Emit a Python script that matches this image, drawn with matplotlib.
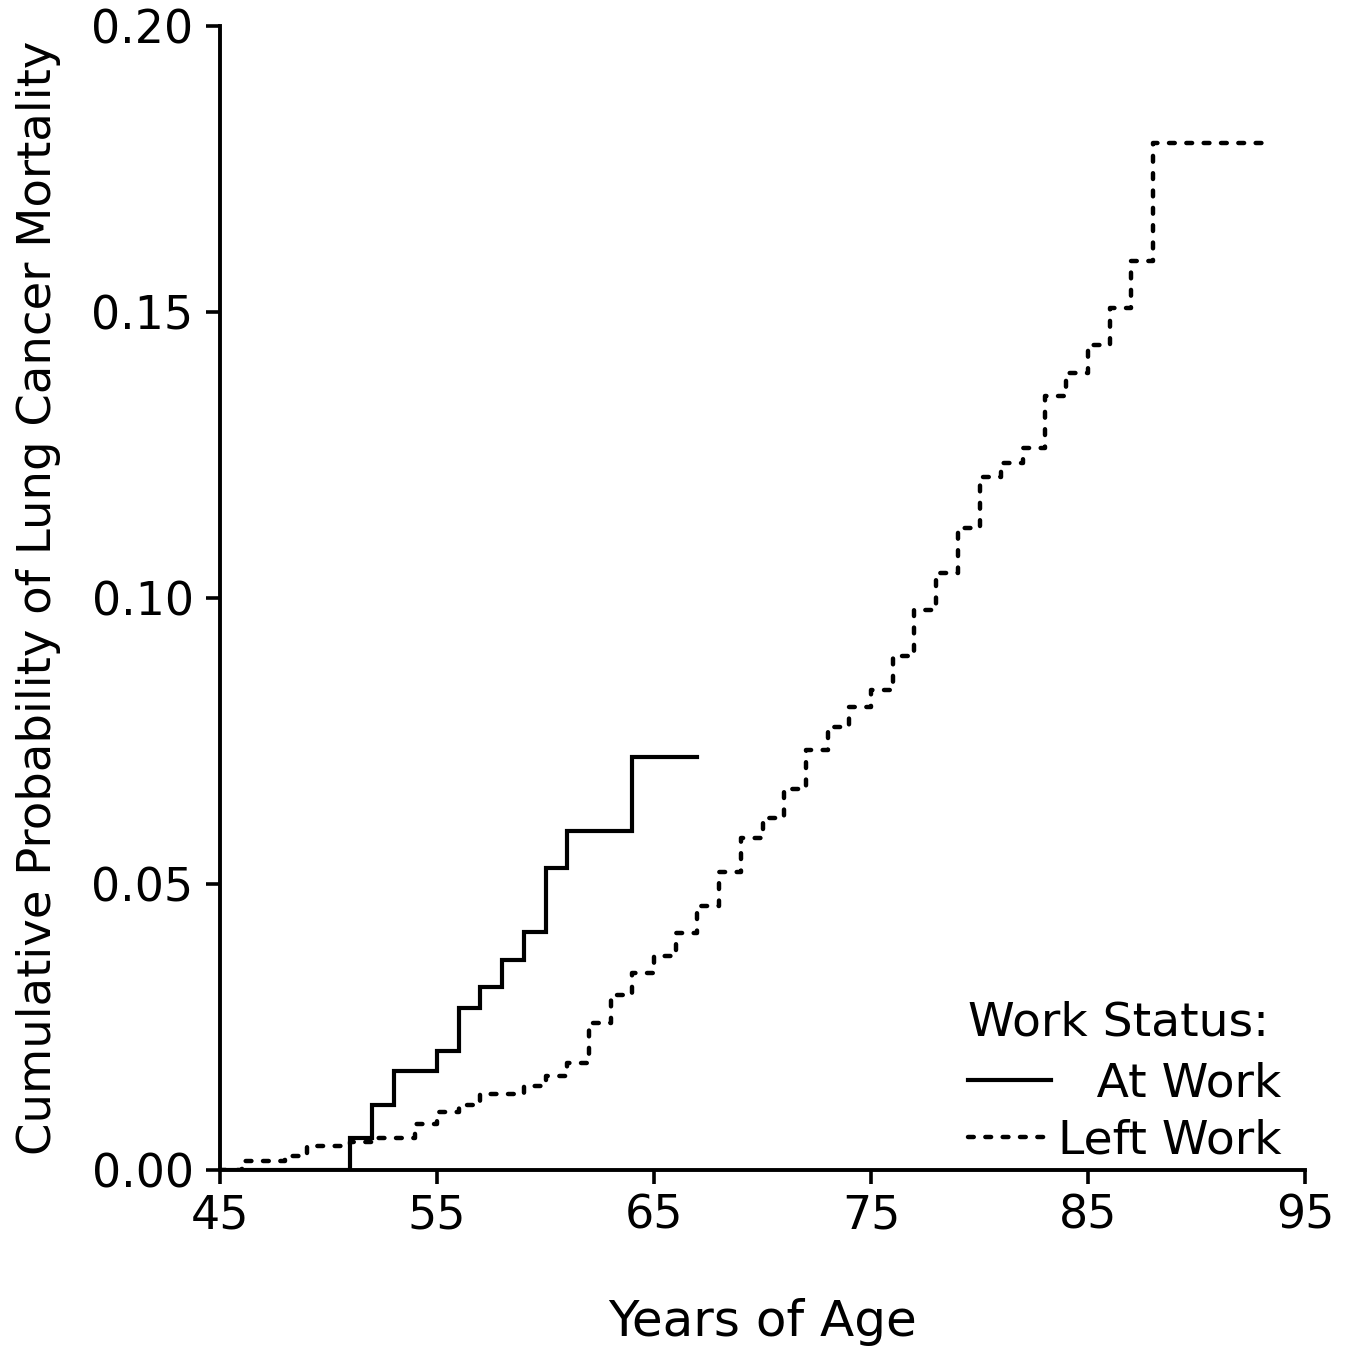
import matplotlib
matplotlib.use("Agg")
import matplotlib.pyplot as plt
from matplotlib.ticker import FormatStrFormatter

plt.rcParams['font.family'] = ['DejaVu Sans']

# Data
at_work_age = [45, 51, 52, 53, 55, 56, 57, 58, 59, 60, 61, 64, 67]
at_work_prob = [0.0, 0.0056, 0.0114, 0.0173, 0.0208, 0.0283, 0.0320, 0.0367,
                0.0416, 0.0528, 0.0593, 0.0722, 0.0722]

left_work_age = [45, 46, 48, 49, 51, 52, 54, 55, 56, 57, 59, 60, 61, 62, 63, 64,
                 65, 66, 67, 68, 69, 70, 71, 72, 73, 74, 75, 76, 77, 78, 79, 80,
                 81, 82, 83, 84, 85, 86, 87, 88, 93]
left_work_prob = [0.0, 0.0016, 0.0024, 0.0042, 0.0049, 0.0056, 0.0080, 0.0102,
                  0.0114, 0.0133, 0.0147, 0.0164, 0.0187, 0.0257, 0.0306, 0.0344,
                  0.0374, 0.0414, 0.0461, 0.0521, 0.0580, 0.0616, 0.0666, 0.0735,
                  0.0775, 0.0810, 0.0839, 0.0899, 0.0979, 0.1044, 0.1122, 0.1212,
                  0.1236, 0.1262, 0.1353, 0.1393, 0.1442, 0.1507, 0.1589, 0.1795,
                  0.1795]

x_ticks = [45, 55, 65, 75, 85, 95]
y_ticks = [0.00, 0.05, 0.10, 0.15, 0.20]

fig = plt.figure(figsize=(13.55, 13.51), dpi=100)
ax = fig.add_axes([220 / 1355, 1 - 1170 / 1351, 1085 / 1355, 1144 / 1351])

ax.step(at_work_age, at_work_prob, where='post', color='black', lw=3.0,
        label=' \u2002At Work', solid_joinstyle='miter')
ax.step(left_work_age, left_work_prob, where='post', color='black', lw=3.2,
        linestyle=(0, (1.3, 2.6)), label='Left Work',
        dash_capstyle='round')

ax.set_xlim(45, 95)
ax.set_ylim(0, 0.20)
ax.set_xticks(x_ticks)
ax.set_yticks(y_ticks)
ax.yaxis.set_major_formatter(FormatStrFormatter('%.2f'))

for s in ['top', 'right']:
    ax.spines[s].set_visible(False)
for s in ['left', 'bottom']:
    ax.spines[s].set_linewidth(2.8)

ax.tick_params(axis='both', direction='out', length=10, width=2.6,
               labelsize=33, color='black')
ax.tick_params(axis='y', pad=9)
ax.tick_params(axis='x', pad=7)

ax.set_xlabel('Years of Age', fontsize=36, labelpad=43)
ax.set_ylabel('Cumulative Probability of Lung Cancer Mortality', fontsize=33.5,
              labelpad=22)

leg = ax.legend(title='Work Status:', loc='lower right',
                bbox_to_anchor=(0.978, 0.006), frameon=False, fontsize=34,
                title_fontsize=34, alignment='left', handlelength=1.75,
                handletextpad=0.15, labelspacing=0.24, borderpad=0,
                borderaxespad=0)
leg._legend_box.sep = 12

fig.savefig('out.png', dpi=100)
